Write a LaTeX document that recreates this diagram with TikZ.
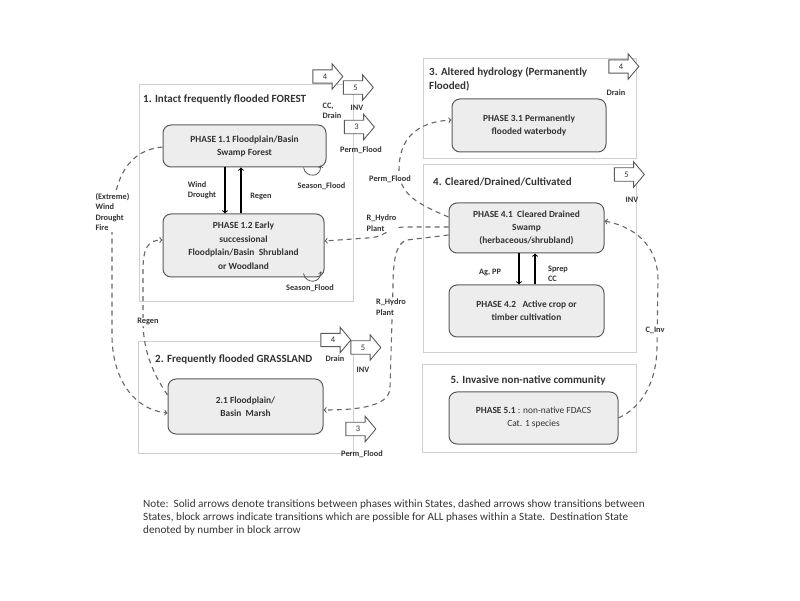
\documentclass[tikz,border=0pt]{standalone}
\usepackage{fontspec}
\setmainfont{Carlito}
\usetikzlibrary{shapes.arrows}

\definecolor{txtgray}{HTML}{333333}
\definecolor{boxgray}{HTML}{CFCFCF}
\definecolor{edgegray}{HTML}{5A5A5A}
\definecolor{phasefill}{HTML}{EDEDED}
\definecolor{dashgray}{HTML}{666666}

\tikzset{
    statebox/.style={draw=boxgray, line width=0.9pt, inner sep=0pt},
    phasebox/.style={draw=edgegray, fill=phasefill, rounded corners=8pt, line width=1pt, align=center,
        font=\bfseries\fontsize{9.4}{13}\selectfont, text=txtgray, inner sep=0pt},
    statetitle/.style={font=\bfseries\fontsize{11}{14}\selectfont, text=txtgray, inner sep=0pt, align=left},
    lbl/.style={font=\bfseries\fontsize{8.3}{10.5}\selectfont, text=txtgray, inner sep=1pt, align=left},
    lblw/.style={lbl, fill=white},
    blockar/.style={single arrow, draw=edgegray, fill=white, line width=0.9pt, minimum height=30pt,
        single arrow head extend=6pt, single arrow tip angle=100, inner xsep=3pt, inner ysep=3.5pt,
        font=\fontsize{8.5}{8.5}\selectfont, text=txtgray},
    solidar/.style={->, draw=black, line width=1.1pt},
    dashar/.style={->, draw=dashgray, dash pattern=on 5pt off 4pt, line width=1.1pt},
    loopar/.style={->, draw=edgegray, line width=0.8pt},
}

\begin{document}
\begin{tikzpicture}[x=1pt, y=1pt]
    \useasboundingbox (0,0) rectangle (800,600);
    % states
    \node[statebox, minimum width=214pt, minimum height=217pt] (s1) at (246, 407.5) {};
    \node[statebox, minimum width=213pt, minimum height=100pt] (s3) at (529.5, 492) {};
    \node[statebox, minimum width=213pt, minimum height=188pt] (s4) at (529.5, 342) {};
    \node[statebox, minimum width=215pt, minimum height=112pt] (s2) at (245.5, 203) {};
    \node[statebox, minimum width=214pt, minimum height=88pt] (s5) at (529, 192) {};
    \node[statetitle, anchor=west] (t1) at (143, 500) {1. Intact frequently flooded FOREST};
    \node[statetitle, anchor=west] (t3) at (429, 521) {3. Altered hydrology (Permanently\\Flooded)};
    \node[statetitle, anchor=west] (t4) at (433, 418) {4. Cleared/Drained/Cultivated};
    \node[statetitle, anchor=west] (t2) at (155, 240) {2. Frequently flooded GRASSLAND};
    \node[statetitle] (t5) at (528, 220) {5. Invasive non-native community};
    % block arrows
    \node[blockar] (b14) at (325, 523.5) {4};
    \node[blockar] (b15) at (355.5, 512.5) {5};
    \node[blockar] (b13) at (356.5, 473) {3};
    \node[lbl] (l14) at (332, 489) {CC,\\Drain};
    \node[lbl] (l15) at (357, 492) {INV};
    \node[lbl] (l13) at (361, 450) {Perm\_Flood};
    \node[blockar] (b34) at (621, 533.5) {4};
    \node[lbl] (l34) at (616, 507) {Drain};
    \node[blockar] (b45) at (626.5, 425.5) {5};
    \node[lbl] (l45) at (632, 400) {INV};
    \node[blockar] (b24) at (333, 260) {4};
    \node[lbl] (l24) at (335, 241) {Drain};
    \node[blockar] (b25) at (363, 252.5) {5};
    \node[lbl] (l25) at (363, 230) {INV};
    \node[blockar] (b23) at (358, 171) {3};
    \node[lbl] (l23) at (362, 146) {Perm\_Flood};
    % phases
    \node[phasebox, minimum width=163pt, minimum height=42pt] (p11) at (244.5, 454) {PHASE 1.1 Floodplain/Basin\\Swamp Forest};
    \node[phasebox, minimum width=161pt, minimum height=63pt, font=\bfseries\fontsize{9.4}{13.5}\selectfont] (p12) at (243.5, 354.5) {PHASE 1.2 Early\\successional\\Floodplain/Basin~~Shrubland\\or Woodland};
    \node[phasebox, minimum width=154pt, minimum height=53pt] (p31) at (529, 474.5) {PHASE 3.1 Permanently\\flooded waterbody};
    \node[phasebox, minimum width=155pt, minimum height=50pt] (p41) at (526.5, 372) {PHASE 4.1~~Cleared Drained\\Swamp\\(herbaceous/shrubland)};
    \node[phasebox, minimum width=155pt, minimum height=52pt] (p42) at (526.5, 289) {PHASE 4.2~~~Active crop or\\timber cultivation};
    \node[phasebox, minimum width=155pt, minimum height=55pt] (p21) at (245.5, 193.5) {2.1 Floodplain/\\Basin~~Marsh};
    \node[phasebox, minimum width=169pt, minimum height=52pt, font=\fontsize{9.4}{13}\selectfont] (p51) at (533.5, 182) {\textbf{PHASE 5.1} : non-native FDACS\\Cat. 1 species};
    % within states
    \draw[solidar] ([xshift=-19.5pt]p11.south) -- ([xshift=-19.5pt]p11.south |- p12.north);
    \draw[solidar] ([xshift=-3.5pt]p11.south |- p12.north) -- ([xshift=-3.5pt]p11.south);
    \node[lbl] (lwind) at (202, 409.5) {Wind\\Drought};
    \node[lbl] (lregen) at (261, 403) {Regen};
    \draw[solidar] ([xshift=-7.5pt]p41.south) -- ([xshift=-7.5pt]p41.south |- p42.north);
    \draw[solidar] ([xshift=8.5pt]p41.south |- p42.north) -- ([xshift=8.5pt]p41.south);
    \node[lbl] (lagpp) at (490, 327) {Ag, PP};
    \node[lbl] (lsprep) at (558, 326) {Sprep\\CC};
    \draw[loopar] ([xshift=-23pt]p11.south east) .. controls +(2,-11) and +(1,-12) .. ([xshift=-6pt,yshift=2pt]p11.south east);
    \node[lbl] (ls11) at (321.5, 414) {Season\_Flood};
    \draw[loopar] ([xshift=-21pt,yshift=4pt]p12.south east) .. controls +(2,-11) and +(1,-12) .. ([xshift=-4pt,yshift=6pt]p12.south east);
    \node[lbl] (ls12) at (310, 312) {Season\_Flood};
    % between states
    \draw[dashar] ([yshift=-1pt]p11.west) .. controls (130,450) and (112,425) .. (112,370) -- (112,265) .. controls (112,220) and (135,190) .. ([yshift=-6.5pt]p21.west);
    \draw[dashar] ([yshift=11.5pt]p21.west) .. controls (152,228) and (143,250) .. (143,280) -- (143,330) .. controls (143,352) and (148,360) .. ([yshift=5.5pt]p12.west);
    \draw[dashar] ([yshift=11pt]p41.west) .. controls (420,395) and (399,405) .. (399,430) .. controls (399,460) and (415,478) .. ([yshift=5.5pt]p31.west);
    \draw[dashar] ([yshift=1pt]p41.west) -- (405,373) .. controls (388,373) and (385,362) .. (367,362) -- ([yshift=4.5pt]p12.east);
    \draw[dashar] ([yshift=-7pt]p41.west) -- (407,360) .. controls (396,357) and (393,340) .. (393,313) -- (390,213) .. controls (390,197) and (370,190) .. ([yshift=-3.5pt]p21.east);
    \draw[dashar] (p51.east) .. controls (640,192) and (657,215) .. (657,255) -- (658,320) .. controls (658,350) and (640,372) .. ([yshift=7pt]p41.east);
    \node[lblw] (lext) at (112.5, 388) {(Extreme)\\Wind\\Drought\\Fire};
    \node[lblw] (lregen2) at (148, 278) {Regen};
    \node[lblw] (lperm) at (390, 421) {Perm\_Flood};
    \node[lblw] (lhydro1) at (381.5, 377) {R\_Hydro\\Plant};
    \node[lblw] (lhydro2) at (391, 293) {R\_Hydro\\Plant};
    \node[lblw] (lcinv) at (655, 270) {C\_Inv};
    % note
    \node[anchor=north west, align=left, inner sep=0pt, text=txtgray, font=\fontsize{11.2}{13}\selectfont] (note) at (143, 100)
        {Note:~~Solid arrows denote transitions between phases within States, dashed arrows show transitions between\\
         States, block arrows indicate transitions which are possible for ALL phases within a State.~~Destination State\\
         denoted by number in block arrow};
\end{tikzpicture}
\end{document}
